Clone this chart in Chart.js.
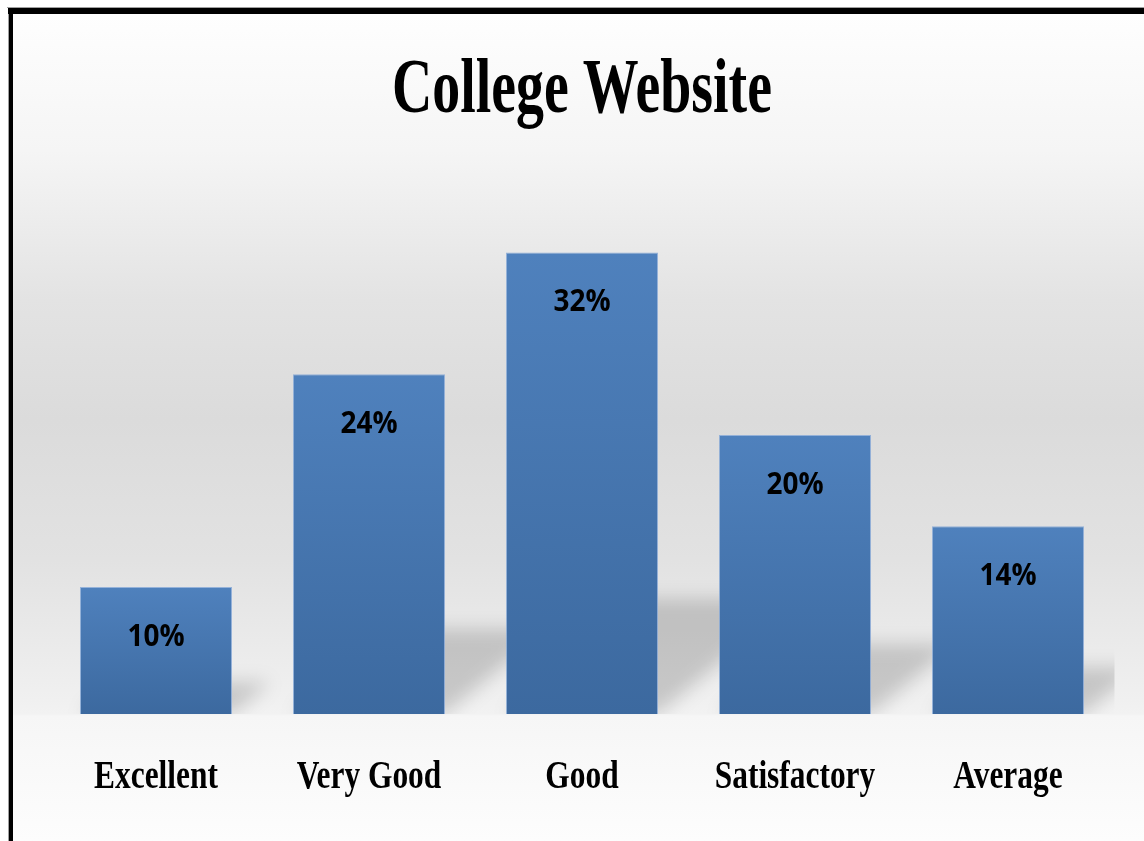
<!DOCTYPE html>
<html><head><meta charset="utf-8">
<script src="https://cdn.jsdelivr.net/npm/chart.js@4/dist/chart.umd.min.js"></script>
<style>html,body{margin:0;padding:0;background:#fff;overflow:hidden}canvas{display:block}</style>
</head><body>
<canvas id="c" width="1144" height="841"></canvas>
<script>
const chartTitle = 'College Website';
const categories = ['Excellent', 'Very Good', 'Good', 'Satisfactory', 'Average'];
const values = [10, 24, 32, 20, 14];
const valueLabels = ['10%', '24%', '32%', '20%', '14%'];
const Y_MIN = 1.64;
const Y_MAX = 35.46;

function squeezeText(ctx, text, x, y, sx) {
  ctx.save();
  ctx.translate(x, y);
  ctx.scale(sx, 1);
  ctx.fillText(text, 0, 0);
  ctx.restore();
}

const bgPlugin = {
  id: 'bg',
  beforeDraw(chart) {
    const ctx = chart.ctx, W = chart.width, H = chart.height;
    ctx.save();
    ctx.fillStyle = '#fff';
    ctx.fillRect(0, 0, W, H);
    const g = ctx.createLinearGradient(0, 0, 0, H);
    const st = [[0,'#ffffff'],[14,'#fefefe'],[150,'#f5f5f5'],[300,'#e3e3e3'],[420,'#dbdbdb'],[560,'#e2e2e2'],[700,'#f0f0f0'],[714,'#f2f2f2'],[716,'#f6f6f6'],[841,'#fdfdfd']];
    st.forEach(s => g.addColorStop(s[0] / H, s[1]));
    ctx.fillStyle = g;
    ctx.fillRect(13, 14, W - 13, H - 14);
    ctx.restore();
  },
  beforeDatasetsDraw(chart) {
    const ctx = chart.ctx, a = chart.chartArea;
    const meta = chart.getDatasetMeta(0);
    ctx.save();
    ctx.beginPath();
    ctx.rect(a.left, a.top, a.right - a.left, a.bottom - a.top);
    ctx.clip();
    ctx.filter = 'blur(9px)';
    ctx.fillStyle = 'rgba(0,0,0,0.17)';
    meta.data.forEach(el => {
      const xL = el.x - el.width / 2, xR = el.x + el.width / 2;
      const h = el.base - el.y;
      const hs = h * 0.25, d = hs * 1.2;
      ctx.beginPath();
      ctx.moveTo(xL, el.base);
      ctx.lineTo(xR, el.base);
      ctx.lineTo(xR + d, el.base - hs);
      ctx.lineTo(xL + d, el.base - hs);
      ctx.closePath();
      ctx.fill();
    });
    ctx.restore();
  },
  afterDatasetsDraw(chart) {
    const ctx = chart.ctx, a = chart.chartArea;
    const meta = chart.getDatasetMeta(0);
    const xs = chart.scales.x;
    ctx.save();
    ctx.fillStyle = '#000';
    ctx.textAlign = 'center';
    ctx.textBaseline = 'middle';
    ctx.font = 'bold 31px "Open Sans"';
    meta.data.forEach((el, i) => squeezeText(ctx, valueLabels[i], el.x, el.y + 50, 0.9));
    ctx.textBaseline = 'alphabetic';
    ctx.font = 'bold 40px "Liberation Serif"';
    categories.forEach((c, i) => squeezeText(ctx, c, xs.getPixelForValue(i), 788, 0.785));
    ctx.font = 'bold 78px "Liberation Serif"';
    squeezeText(ctx, chartTitle, (a.left + a.right) / 2, 112, 0.716);
    ctx.restore();
  },
  afterDraw(chart) {
    const ctx = chart.ctx, W = chart.width, H = chart.height;
    ctx.save();
    ctx.fillStyle = '#a0a0a0';
    ctx.fillRect(7, 7, W - 7, 1);
    ctx.fillRect(8, 7, 1, H - 7);
    ctx.fillStyle = '#000';
    ctx.fillRect(8, 8, W - 8, 6);
    ctx.fillRect(9, 8, 4, H - 8);
    ctx.restore();
  }
};

new Chart(document.getElementById('c'), {
  type: 'bar',
  data: {
    labels: categories,
    datasets: [{
      data: values,
      base: Y_MIN,
      backgroundColor(ctx) {
        const chart = ctx.chart;
        if (!chart.chartArea || !chart.scales.y) return '#4677b2';
        const ys = chart.scales.y;
        const top = ys.getPixelForValue(ctx.raw);
        const bot = ys.getPixelForValue(Y_MIN);
        if (!isFinite(top) || !isFinite(bot)) return '#4677b2';
        const g = chart.ctx.createLinearGradient(0, top, 0, bot);
        g.addColorStop(0, '#4f81bd');
        g.addColorStop(1, '#3c699f');
        return g;
      },
      borderColor: 'rgba(140,172,215,0.9)',
      borderWidth: 1,
      categoryPercentage: 0.714,
      barPercentage: 1
    }]
  },
  options: {
    responsive: false,
    animation: false,
    layout: { padding: { left: 49.5, right: 29.5, top: 200, bottom: 127 } },
    plugins: { legend: { display: false }, title: { display: false }, tooltip: { enabled: false } },
    scales: {
      x: { display: false },
      y: { display: false, min: Y_MIN, max: Y_MAX }
    }
  },
  plugins: [bgPlugin]
});
</script>
</body></html>
